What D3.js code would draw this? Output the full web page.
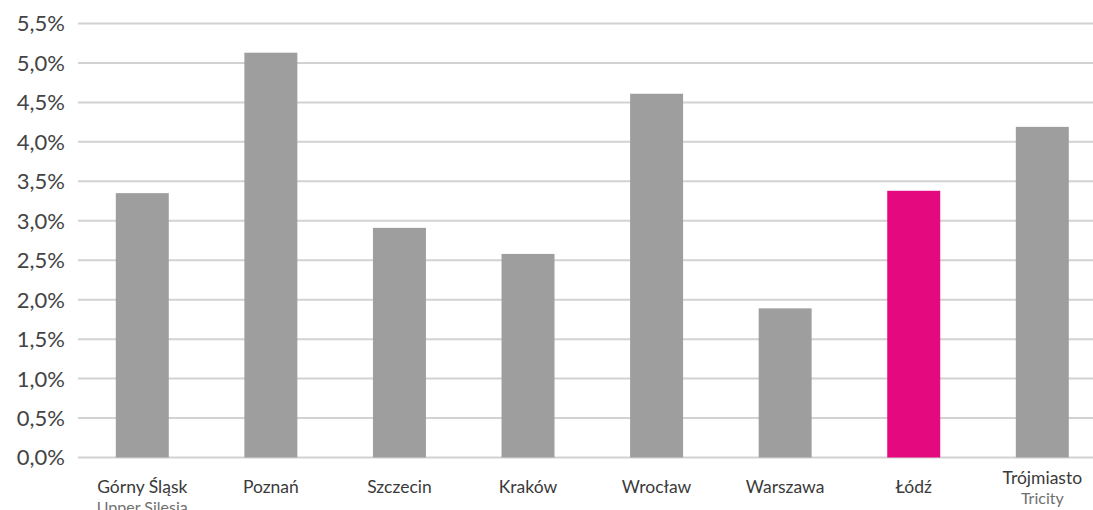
<!DOCTYPE html>
<html>
<head>
<meta charset="utf-8">
<script src="https://cdn.jsdelivr.net/npm/d3@7"></script>
<style>
  html, body { margin: 0; padding: 0; background: #fff; }
  svg { display: block; }
  text { font-family: "Lato", "Noto Sans", sans-serif; }
</style>
</head>
<body>
<svg id="chart" width="1093" height="510"></svg>
<script>
const categories = ["Górny Śląsk", "Poznań", "Szczecin", "Kraków", "Wrocław", "Warszawa", "Łódź", "Trójmiasto"];
const subLabels = ["Upper Silesia", "", "", "", "", "", "", "Tricity"];
const values = [3.35, 5.13, 2.91, 2.58, 4.61, 1.89, 3.38, 4.19];
const highlight = ["Łódź"];
const yTicks = [0, 0.5, 1.0, 1.5, 2.0, 2.5, 3.0, 3.5, 4.0, 4.5, 5.0, 5.5];

const svg = d3.select("#chart");
const x0 = 78, x1 = 1106.6, yBottom = 457.5, yTop = 23.5;

const x = d3.scaleBand().domain(categories).range([x0, x1]).paddingInner(0.588).paddingOuter(0.294);
const y = d3.scaleLinear().domain([0, 5.5]).range([yBottom, yTop]);

// gridlines
svg.append("g").selectAll("line").data(yTicks).join("line")
  .attr("x1", x0).attr("x2", 1093)
  .attr("y1", d => y(d)).attr("y2", d => y(d))
  .attr("stroke", "#d2d2d2").attr("stroke-width", 2);

// y labels
const fmt = d => d.toFixed(1).replace(".", ",") + "%";
svg.append("g").selectAll("text").data(yTicks).join("text")
  .attr("x", 65).attr("y", d => y(d)).attr("dy", "0.36em")
  .attr("text-anchor", "end").attr("font-size", 22).attr("fill", "#444")
  .text(fmt);

// bars
svg.append("g").selectAll("rect").data(categories).join("rect")
  .attr("x", d => x(d)).attr("width", x.bandwidth())
  .attr("y", (d, i) => y(values[i]))
  .attr("height", (d, i) => y(0) - y(values[i]))
  .attr("fill", d => highlight.includes(d) ? "#e4097f" : "#9d9e9d");

// x labels
const lab = svg.append("g");
categories.forEach((c, i) => {
  const cx = x(c) + x.bandwidth() / 2;
  const sub = subLabels[i];
  let y1 = 493, y2 = 513;
  if (c === "Trójmiasto") { y1 = 484; y2 = 504; }
  lab.append("text").attr("x", cx).attr("y", y1).attr("text-anchor", "middle")
    .attr("font-size", 17.5).attr("fill", "#3a3a3a").text(c);
  if (sub) {
    lab.append("text").attr("x", cx).attr("y", y2).attr("text-anchor", "middle")
      .attr("font-size", 16).attr("fill", "#6f6f6f").text(sub);
  }
});
</script>
</body>
</html>
